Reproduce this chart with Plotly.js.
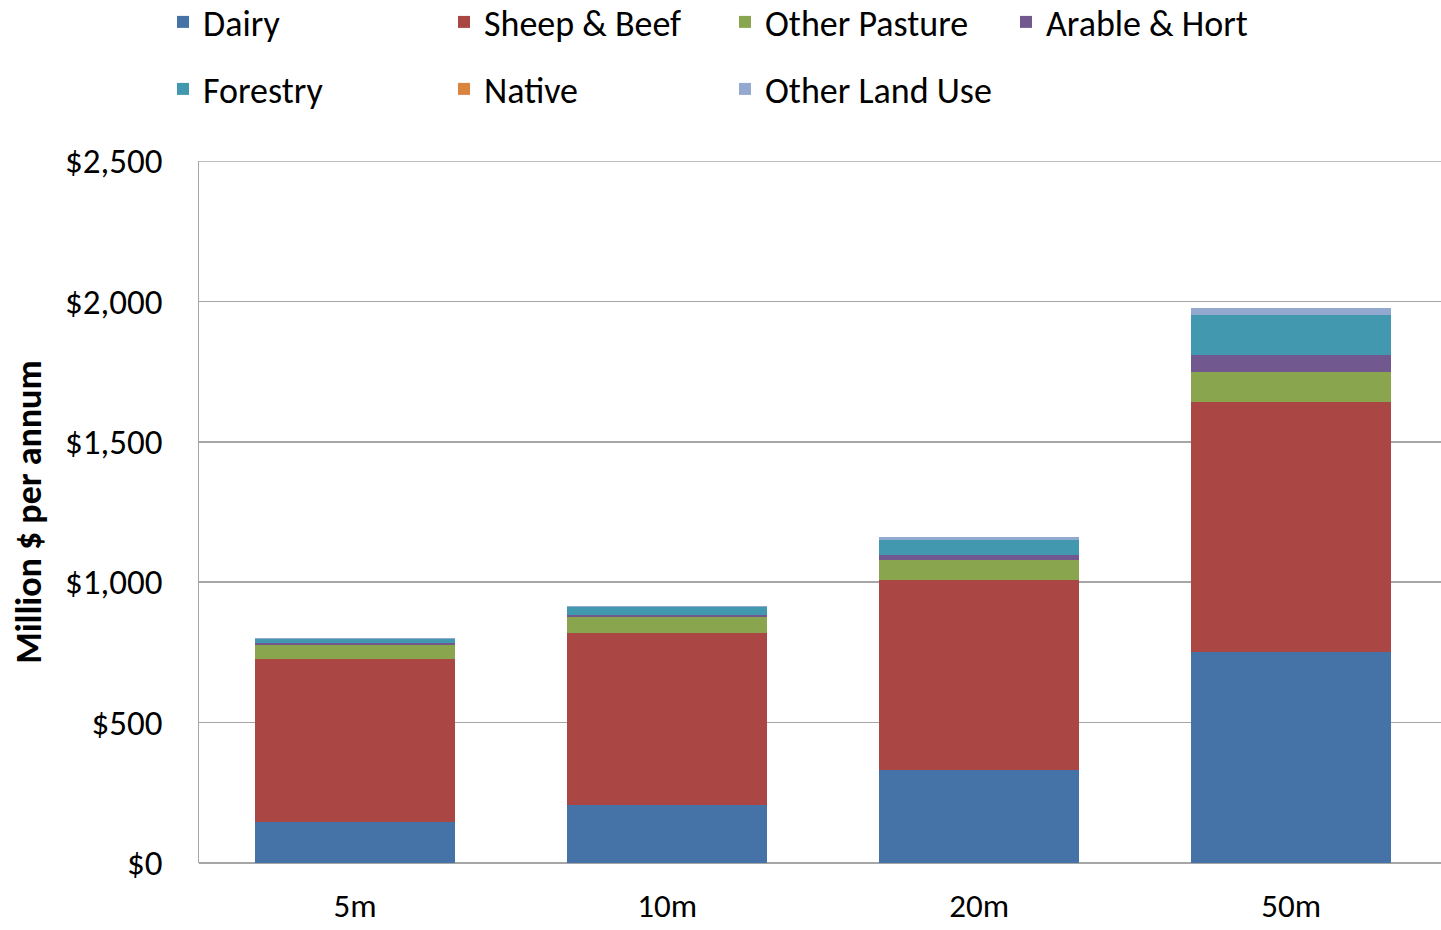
<!DOCTYPE html>
<html>
<head>
<meta charset="utf-8">
<script src="https://cdn.plot.ly/plotly-3.0.1.min.js"></script>
<style>html,body{margin:0;padding:0;background:#fff;}#chart{width:1441px;height:930px;}</style>
</head>
<body>
<div id="chart"></div>
<script>
const categories = ["5m", "10m", "20m", "50m"];
const dairy        = [145, 207, 331, 751];
const sheepBeef    = [582, 612, 677, 892];
const otherPasture = [50, 58, 71, 107];
const arableHort   = [7, 6, 18, 59];
const forestry     = [15, 30, 53, 142];
const native       = [0, 0, 0, 0];
const otherLandUse = [3, 3, 10, 27];
const yTicks = [0, 500, 1000, 1500, 2000, 2500];
const yTickText = ["$0", "$500", "$1,000", "$1,500", "$2,000", "$2,500"];

const seriesNames = ["Dairy", "Sheep & Beef", "Other Pasture", "Arable & Hort", "Forestry", "Native", "Other Land Use"];
const seriesData = [dairy, sheepBeef, otherPasture, arableHort, forestry, native, otherLandUse];
const colors = ["#4572a7", "#aa4643", "#89a54e", "#71588f", "#4198af", "#db843d", "#93a9cf"];
const legendRow = ["legend", "legend", "legend", "legend", "legend2", "legend2", "legend2"];

const FONT = "Carlito, Lato, 'Open Sans', sans-serif";

const traces = seriesNames.map((n, i) => ({
  type: "bar",
  name: n,
  x: categories,
  y: seriesData[i],
  width: 0.64,
  legend: legendRow[i],
  marker: {color: colors[i], line: {width: 0}},
  hoverinfo: "name+y"
}));

function legendAt(yPix) {
  return {
    orientation: "h",
    xref: "container", yref: "container",
    x: 163 / 1441, y: 1 - yPix / 930,
    xanchor: "left", yanchor: "middle",
    entrywidth: 236, entrywidthmode: "pixels",
    traceorder: "normal",
    font: {family: FONT, size: 36, color: "#000"},
    itemwidth: 30,
    bgcolor: "rgba(0,0,0,0)"
  };
}

const layout = {
  width: 1441, height: 930,
  barmode: "stack",
  margin: {l: 199, r: 0, t: 161, b: 67},
  paper_bgcolor: "#fff",
  plot_bgcolor: "#fff",
  font: {family: FONT, size: 30, color: "#000"},
  showlegend: true,
  legend: legendAt(22),
  legend2: legendAt(89),
  xaxis: {
    type: "category",
    range: [-0.5, 3.48],
    showgrid: false,
    showline: false,
    ticks: "",
    tickfont: {family: FONT, size: 33, color: "#000"},
    ticklabelstandoff: 20,
    fixedrange: true
  },
  yaxis: {
    range: [0, 2500],
    tickmode: "array",
    tickvals: yTicks,
    ticktext: yTickText,
    showgrid: true,
    gridcolor: "#a6a6a6",
    gridwidth: 1.5,
    showline: true,
    linecolor: "#a6a6a6",
    linewidth: 1.5,
    zeroline: true,
    zerolinecolor: "#a6a6a6",
    zerolinewidth: 1.5,
    ticks: "",
    tickfont: {family: FONT, size: 35, color: "#000"},
    ticklabelstandoff: 28,
    title: {text: "<b>Million $ per annum</b>", font: {family: FONT, size: 36, color: "#000"}, standoff: 12},
    fixedrange: true
  },
  shapes: [{
    type: "line", xref: "paper", yref: "y", x0: 0, x1: 1, y0: 2500, y1: 2500,
    line: {color: "#a6a6a6", width: 1.5}
  }]
};

Plotly.newPlot("chart", traces, layout, {displayModeBar: false, staticPlot: true});
</script>
</body>
</html>
